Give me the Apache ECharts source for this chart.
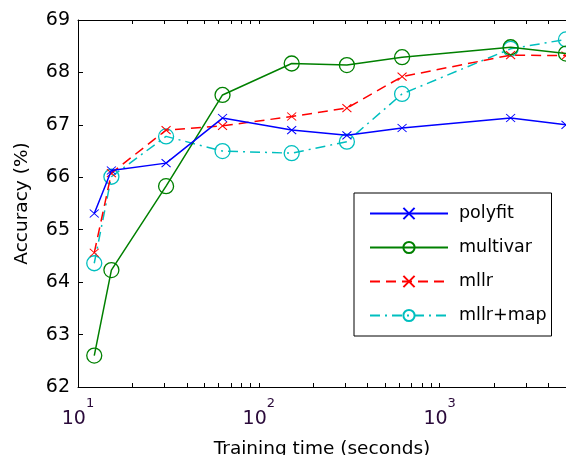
<!DOCTYPE html>
<html>
<head>
<meta charset="utf-8">
<script src="https://cdn.jsdelivr.net/npm/echarts@6/dist/echarts.min.js"></script>
<style>
html,body{margin:0;padding:0;background:#fff;}
#c{width:566px;height:455px;}
</style>
</head>
<body>
<div id="c"></div>
<script>
// Training time (seconds)
const times = [12.3, 15.3, 30.7, 63, 152, 307, 620, 2470, 5000];
const polyfit = [65.31, 66.13, 66.27, 67.13, 66.9, 66.8, 66.94, 67.13, 67.0];
const multivar = [62.6, 64.23, 65.83, 67.57, 68.17, 68.14, 68.29, 68.48, 68.36];
const mllr = [64.56, 66.08, 66.9, 66.98, 67.16, 67.32, 67.92, 68.33, 68.32];
const mllrMap = [64.36, 66.01, 66.78, 66.5, 66.46, 66.68, 67.59, 68.45, 68.63];
const seriesNames = ['polyfit', 'multivar', 'mllr', 'mllr+map'];
const xMajorTicks = [10, 100, 1000];
const xMinorTicks = [20, 30, 40, 50, 60, 70, 80, 90, 100, 200, 300, 400, 500, 600, 700, 800, 900, 1000, 2000, 3000, 4000, 5000];

const FONT = 'DejaVu Sans';
const pairs = arr => arr.map((v, i) => [times[i], v]);
const xPath = 'path://M0,0L10,10M10,0L0,10';

function xAxisBase() {
  return {
    type: 'log',
    logBase: 10,
    min: 10,
    max: 5000,
    axisLine: { show: true, onZero: false, lineStyle: { color: '#000', width: 1 } },
    axisTick: { show: true, inside: true, length: 4, customValues: xMinorTicks.slice(), lineStyle: { color: '#000', width: 1 } },
    splitLine: { show: false },
    minorTick: { show: false },
    minorSplitLine: { show: false }
  };
}

const chart = echarts.init(document.getElementById('c'), null, { renderer: 'canvas' });
chart.setOption({
  animation: false,
  backgroundColor: '#fff',
  grid: { left: 78, top: 20, right: 0, bottom: 68, containLabel: false, outerBoundsMode: 'none' },
  xAxis: [
    Object.assign(xAxisBase(), {
      position: 'bottom',
      name: 'Training time (seconds)',
      nameLocation: 'middle',
      nameGap: 53,
      nameTextStyle: { fontFamily: FONT, fontSize: 18.5, color: '#000' },
      axisLabel: {
        show: true,
        customValues: xMajorTicks,
        margin: 6,
        formatter: v => '{b|10}{s|' + Math.round(Math.log10(v)) + '}',
        rich: {
          b: { fontFamily: FONT, fontSize: 19, color: '#2a0a3a', padding: [17, 0, 0, 0] },
          s: { fontFamily: FONT, fontSize: 13, color: '#2a0a3a', padding: [0, 0, 14, 0] }
        }
      }
    }),
    Object.assign(xAxisBase(), {
      position: 'top',
      axisLabel: { show: false }
    })
  ],
  yAxis: {
    type: 'value',
    min: 62,
    max: 69,
    interval: 1,
    name: 'Accuracy (%)',
    nameLocation: 'middle',
    nameGap: 46,
    nameRotate: 90,
    nameTextStyle: { fontFamily: FONT, fontSize: 18.5, color: '#000' },
    axisLine: { show: true, onZero: false, lineStyle: { color: '#000', width: 1 } },
    axisTick: { show: true, inside: true, length: 5, lineStyle: { color: '#000', width: 1 } },
    axisLabel: { fontFamily: FONT, fontSize: 19, color: '#000', margin: 8 },
    splitLine: { show: false }
  },
  legend: {
    data: seriesNames,
    orient: 'vertical',
    left: 354,
    top: 193,
    padding: [11.5, 5, 11.5, 15],
    itemWidth: 78,
    itemHeight: 14,
    itemGap: 16,
    backgroundColor: '#fff',
    borderColor: '#000',
    borderWidth: 1,
    borderRadius: 0,
    textStyle: { fontFamily: FONT, fontSize: 17.5, color: '#000', padding: [0, 0, 0, 6] }
  },
  series: [
    {
      name: seriesNames[0], type: 'line', data: pairs(polyfit),
      symbol: xPath, symbolSize: [9, 8],
      lineStyle: { color: '#0000ff', width: 1.5, type: 'solid' },
      itemStyle: { color: 'none', borderColor: '#0000ff', borderWidth: 1 },
      z: 4
    },
    {
      name: seriesNames[1], type: 'line', data: pairs(multivar),
      symbol: 'circle', symbolSize: 15,
      lineStyle: { color: '#008000', width: 1.5, type: 'solid' },
      itemStyle: { color: 'none', borderColor: '#008000', borderWidth: 1.3 },
      z: 3
    },
    {
      name: seriesNames[2], type: 'line', data: pairs(mllr),
      symbol: xPath, symbolSize: [9, 8],
      lineStyle: { color: '#ff0000', width: 1.5, type: [10, 6] },
      itemStyle: { color: 'none', borderColor: '#ff0000', borderWidth: 1 },
      z: 2
    },
    {
      name: seriesNames[3], type: 'line', data: pairs(mllrMap),
      symbol: 'circle', symbolSize: 15,
      lineStyle: { color: '#00bfbf', width: 1.5, type: [10, 5, 2, 5] },
      itemStyle: { color: 'none', borderColor: '#00bfbf', borderWidth: 1.3 },
      z: 1
    }
  ]
});
</script>
</body>
</html>
